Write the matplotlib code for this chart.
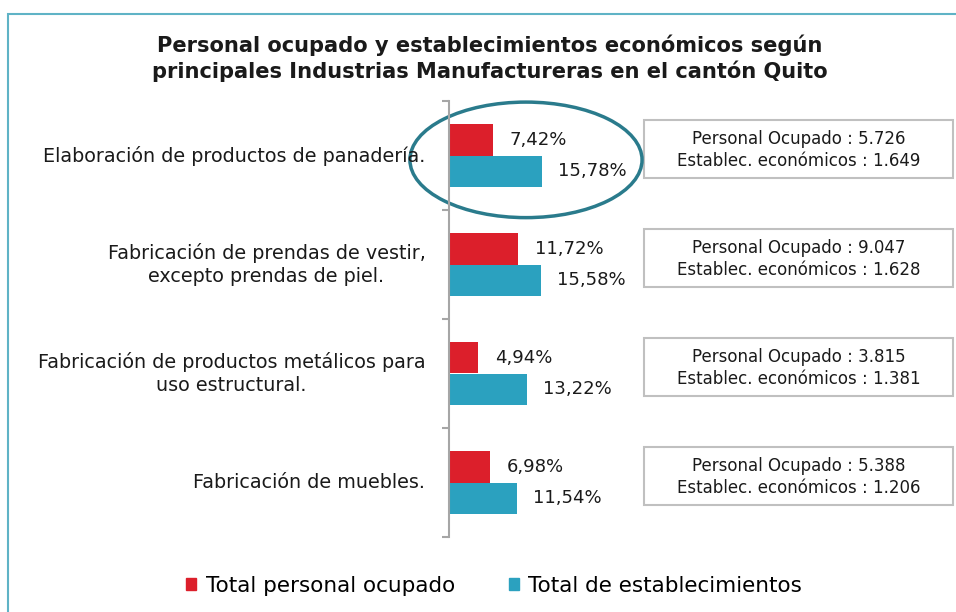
import matplotlib
matplotlib.use("Agg")
import matplotlib.pyplot as plt
from matplotlib.patches import Rectangle, Ellipse, Patch
from matplotlib.transforms import blended_transform_factory

plt.rcParams['font.family'] = ['DejaVu Sans']

title = "Personal ocupado y establecimientos económicos según\nprincipales Industrias Manufactureras en el cantón Quito"
categories = [
    "Elaboración de productos de panadería.",
    "Fabricación de prendas de vestir,\nexcepto prendas de piel.",
    "Fabricación de productos metálicos para\nuso estructural.",
    "Fabricación de muebles.",
]
personal_pct = [7.42, 11.72, 4.94, 6.98]
establec_pct = [15.78, 15.58, 13.22, 11.54]
personal_total = ["5.726", "9.047", "3.815", "5.388"]
establec_total = ["1.649", "1.628", "1.381", "1.206"]
series_names = ["Total personal ocupado", "Total de establecimientos"]

RED = "#dc1f2b"
TEAL = "#2ba1bf"
DARK = "#1a1a1a"

fig = plt.figure(figsize=(9.56, 6.12), dpi=100)
W, H = 956, 612

# outer border
fig.patches.append(Rectangle((8 / W, -0.1), 1.2, 1 - 14 / H + 0.1, transform=fig.transFigure,
                             fill=False, edgecolor="#5fb3c6", linewidth=1.5))

ax = fig.add_axes([449 / W, 1 - 537 / H, 191 / W, 436 / H])
ax.set_xlim(0, 32.5)
ax.set_ylim(3.5, -0.5)

ypos = list(range(len(categories)))
bh = 0.285
ax.barh([y - bh / 2 for y in ypos], personal_pct, height=bh, color=RED, label=series_names[0])
ax.barh([y + bh / 2 for y in ypos], establec_pct, height=bh, color=TEAL, label=series_names[1])

def fmt(v):
    return f"{v:.2f}%".replace(".", ",")

for y, p, e in zip(ypos, personal_pct, establec_pct):
    ax.annotate(fmt(p), (p, y - bh / 2), xytext=(12, 0), textcoords="offset points",
                va="center", ha="left", fontsize=13, color=DARK)
    ax.annotate(fmt(e), (e, y + bh / 2), xytext=(12, 0), textcoords="offset points",
                va="center", ha="left", fontsize=13, color=DARK)

# category labels
for y, c in zip(ypos, categories):
    ax.annotate(c, (0, y), xytext=(-17, 0), textcoords="offset points",
                va="center", ha="right", multialignment="center", fontsize=13.8,
                color=DARK, linespacing=1.28)

# spines / ticks
for s in ["top", "right", "bottom"]:
    ax.spines[s].set_visible(False)
ax.spines["left"].set_color("#a6a6a6")
ax.spines["left"].set_linewidth(1.5)
ax.set_xticks([])
ax.set_yticks([y - 0.5 for y in ypos] + [ypos[-1] + 0.5])
ax.set_yticklabels([])
ax.tick_params(axis="y", length=5, width=1.5, color="#a6a6a6", direction="out")

# info boxes
bt = blended_transform_factory(fig.transFigure, ax.transData)
bx0, bx1 = 644 / W, 953 / W
bhgt = 0.525
for y, pt, et in zip(ypos, personal_total, establec_total):
    yc = y - 0.06
    ax.add_patch(Rectangle((bx0, yc - bhgt / 2), bx1 - bx0, bhgt, transform=bt, fill=False,
                           edgecolor="#c0c0c0", linewidth=1.5, clip_on=False))
    ax.text((bx0 + bx1) / 2, yc + 0.01, f"Personal Ocupado : {pt}\nEstablec. económicos : {et}",
            transform=bt, ha="center", va="center", fontsize=12, color=DARK, linespacing=1.3)

# highlight ellipse around first category
ax.add_patch(Ellipse((13.1, ypos[0] + 0.04), 39.5, 1.06, fill=False, edgecolor="#2a7b8c",
                     linewidth=2.5, clip_on=False))

fig.text(490 / W, 1 - 58 / H, title, ha="center", va="center", fontsize=15.1,
         fontweight="bold", color=DARK, linespacing=1.25)

handles = [Patch(color=RED), Patch(color=TEAL)]
fig.legend(handles, series_names, loc="center", bbox_to_anchor=(494 / W, 1 - 586 / H), ncol=2,
           frameon=False, fontsize=15.5, handlelength=0.47, handleheight=0.47, handletextpad=0.45,
           columnspacing=2.5)

fig.savefig("out.png", dpi=100)
